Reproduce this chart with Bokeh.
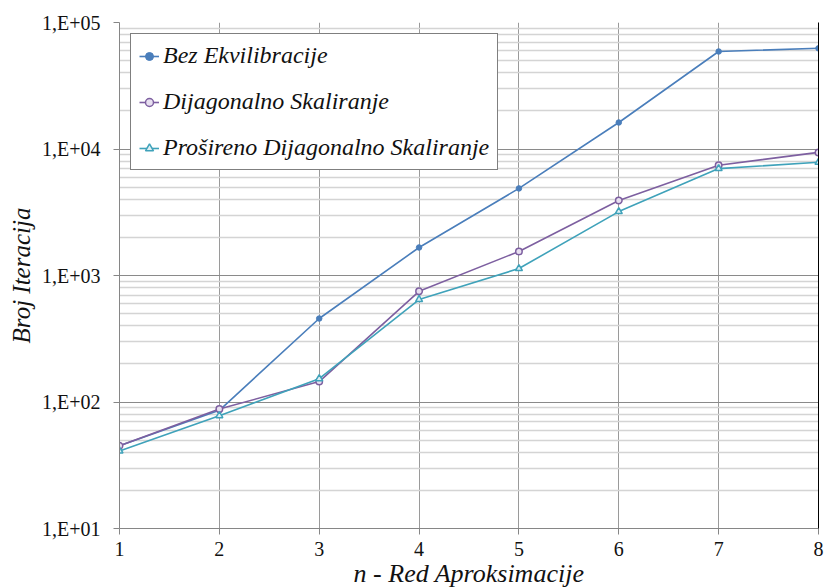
from bokeh.plotting import figure
from bokeh.models import FixedTicker, LogAxis, Legend, LegendItem
from bokeh.embed import file_html
from bokeh.resources import INLINE

x = [1, 2, 3, 4, 5, 6, 7, 8]
bez = [45, 86, 457, 1665, 4880, 16200, 59000, 62500]
dijag = [45, 88, 145, 750, 1550, 3920, 7450, 9400]
prosireno = [41, 78, 153, 646, 1135, 3200, 7000, 7850]

names = ["Bez Ekvilibracije", "Dijagonalno Skaliranje", "Prošireno Dijagonalno Skaliranje"]
colors = ["#4A7EBB", "#7D5FA0", "#3FA2BA"]
y_ticks = [10, 100, 1000, 10000, 100000]
y_labels = ["1,E+01", "1,E+02", "1,E+03", "1,E+04", "1,E+05"]

FONT = "Liberation Serif"

p = figure(width=824, height=586, y_axis_type="log", x_range=(1, 8), y_range=(10, 100000),
           output_backend="svg", toolbar_location=None,
           min_border_left=119, min_border_right=6, min_border_top=22, min_border_bottom=58,
           frame_width=699, frame_height=506)
p.outline_line_color = None
p.background_fill_color = "white"
p.border_fill_color = "white"

minor = [m * d for d in [10, 100, 1000, 10000] for m in range(2, 10)]
p.yaxis.ticker = FixedTicker(ticks=y_ticks, minor_ticks=minor)
p.yaxis.major_label_overrides = {t: l for t, l in zip(y_ticks, y_labels)}
p.xaxis.ticker = FixedTicker(ticks=x)

for ax in [p.xaxis, p.yaxis]:
    ax.axis_line_color = "#868686"
    ax.major_tick_line_color = "#868686"
    ax.minor_tick_line_color = None
    ax.major_tick_out = 6
    ax.major_tick_in = 0
    ax.major_label_text_font = FONT
    ax.major_label_text_font_size = "20px"
    ax.major_label_text_color = "#111111"
    ax.axis_label_text_font = FONT
    ax.axis_label_text_font_style = "italic"
    ax.axis_label_text_color = "#111111"

p.xaxis.axis_label = "n - Red Aproksimacije"
p.yaxis.axis_label = "Broj Iteracija"
p.xaxis.axis_label_text_font_size = "26px"
p.yaxis.axis_label_text_font_size = "25px"
p.xaxis.axis_label_standoff = 0
p.yaxis.axis_label_standoff = 4
p.yaxis.major_label_standoff = 13
p.xaxis.major_label_standoff = 7

p.xgrid.grid_line_color = "#9a9a9a"
p.ygrid.grid_line_color = "#8a8a8a"
p.ygrid.minor_grid_line_color = "#d4d4d4"
p.ygrid.minor_grid_line_width = 1.5

right = LogAxis(ticker=FixedTicker(ticks=[]), axis_line_color="black",
                major_tick_line_color=None, minor_tick_line_color=None,
                major_label_text_font_size="0px")
p.add_layout(right, "right")

r1 = p.line(x, bez, line_color=colors[0], line_width=1.6)
m1 = p.scatter(x, bez, marker="circle", size=5.5, fill_color=colors[0], line_color=colors[0])
r2 = p.line(x, dijag, line_color=colors[1], line_width=1.6)
m2 = p.scatter(x, dijag, marker="circle", size=6.5, fill_color="#e8e0f0", line_color=colors[1], line_width=1.5)
r3 = p.line(x, prosireno, line_color=colors[2], line_width=1.6)
m3 = p.scatter(x, prosireno, marker="triangle", size=7, fill_color="#dff0f5", line_color=colors[2], line_width=1.5)

legend = Legend(items=[LegendItem(label=names[0], renderers=[r1, m1]),
                       LegendItem(label=names[1], renderers=[r2, m2]),
                       LegendItem(label=names[2], renderers=[r3, m3])],
                location="top_left")
legend.margin = 11
legend.padding = 8
legend.spacing = 19
legend.label_height = 26
legend.glyph_width = 20
legend.glyph_height = 26
legend.label_standoff = 4
legend.label_text_font = FONT
legend.label_text_font_style = "italic"
legend.label_text_font_size = "24px"
legend.label_text_color = "#111111"
legend.border_line_color = "black"
legend.border_line_width = 1
legend.background_fill_alpha = 1
p.add_layout(legend)

open("out.html", "w").write(file_html(p, INLINE))
